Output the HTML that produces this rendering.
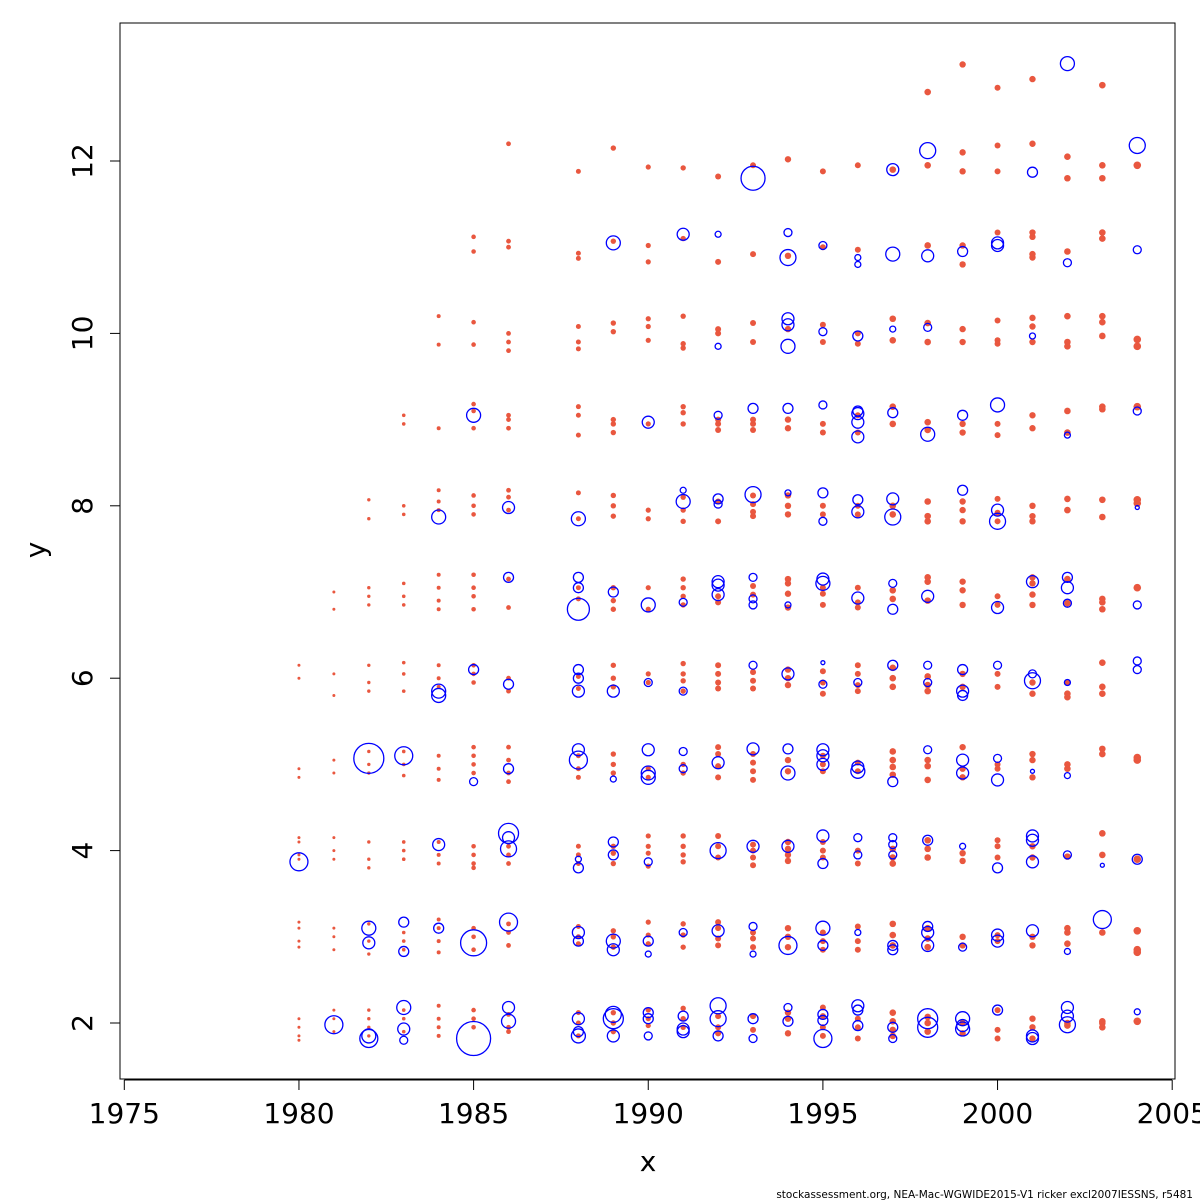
<!DOCTYPE html>
<html><head><meta charset="utf-8"><style>
html,body{margin:0;padding:0;background:#fff;}
svg{display:block;font-family:"DejaVu Sans","Liberation Sans",sans-serif;}
</style></head><body>
<svg id="chart" width="1200" height="1200" viewBox="0 0 1200 1200" xmlns="http://www.w3.org/2000/svg">
<rect x="120" y="23" width="1055" height="1056" fill="none" stroke="#000" stroke-width="1"/>
<g id="axes"></g>
<g id="redLayer"></g>
<g id="blueLayer"></g>
<text x="648" y="1171" font-size="28" text-anchor="middle">x</text>
<text x="45" y="550" font-size="28" text-anchor="middle" transform="rotate(-90 45 550)">y</text>
<text x="1193" y="1198" font-size="10.5" text-anchor="end">stockassessment.org, NEA-Mac-WGWIDE2015-V1  ricker  excl2007IESSNS, r5481</text>
</svg>
<script>
const xTicks=[1975,1980,1985,1990,1995,2000,2005];
const yTicks=[2,4,6,8,10,12];
const redYears=[1980,1981,1982,1983,1984,1985,1986,1988,1989,1990,1991,1992,1993,1994,1995,1996,1997,1998,1999,2000,2001,2002,2003,2004];
const redSizes=[1.5,1.5,1.7,1.8,2,2.3,2.4,2.5,2.7,2.6,2.7,3,3,3.2,3,3,3.3,3.3,3.2,3,3.2,3.3,3.3,3.8];
const redYs=[
[1.8,1.85,1.95,2.05,2.88,2.95,3.1,3.17,3.9,3.95,4.1,4.15,4.85,4.95,6.0,6.15],
[1.9,2.05,2.15,2.85,3.0,3.1,3.9,4.0,4.15,4.9,5.05,5.8,6.05,6.8,7.0],
[1.85,1.95,2.05,2.15,2.8,2.95,3.15,3.8,3.9,4.1,4.9,5.0,5.15,5.85,5.95,6.15,6.85,6.95,7.05,7.85,8.07],
[1.9,2.05,2.15,2.85,2.95,3.05,3.9,4.0,4.1,4.87,5.0,5.15,5.85,6.05,6.18,6.85,6.95,7.1,7.9,8.0,8.95,9.05],
[1.85,1.95,2.05,2.2,2.82,2.95,3.1,3.2,3.85,3.95,4.1,4.82,4.95,5.1,5.9,6.0,6.15,6.8,6.9,7.05,7.2,7.95,8.05,8.18,8.9,9.87,10.2],
[1.95,2.05,2.15,2.85,3.0,3.1,3.8,3.85,3.95,4.05,4.9,5.0,5.1,5.2,5.95,6.05,6.15,6.8,6.95,7.05,7.2,7.9,8.0,8.12,8.9,9.1,9.18,9.87,10.13,10.95,11.12],
[1.9,1.95,2.1,2.9,3.05,3.15,3.85,3.95,4.05,4.8,4.9,5.05,5.2,5.85,6.0,6.82,7.15,7.95,8.1,8.18,8.9,9.0,9.05,9.8,9.9,10.0,11.0,11.07,12.2],
[1.85,2.0,2.12,2.92,3.0,3.12,3.85,3.95,4.05,4.85,4.95,5.1,5.88,6.02,6.92,7.05,7.85,8.15,8.82,9.05,9.15,9.82,9.9,10.08,10.87,10.93,11.88],
[1.9,2.0,2.12,2.88,3.0,3.07,3.85,3.97,4.05,4.9,5.0,5.12,5.9,6.0,6.15,6.8,6.9,7.05,7.88,8.0,8.12,8.85,8.95,9.0,10.02,10.12,11.07,12.15],
[1.97,2.05,2.15,2.92,3.02,3.17,3.82,3.97,4.05,4.17,4.85,4.95,5.95,6.05,6.8,7.05,7.85,7.95,8.95,9.92,10.08,10.17,10.83,11.02,11.93],
[1.95,2.05,2.17,2.88,3.02,3.15,3.87,3.95,4.05,4.17,4.9,5.0,5.85,5.97,6.05,6.17,6.85,6.95,7.05,7.15,7.82,7.95,8.1,8.95,9.08,9.15,9.83,9.88,10.2,11.1,11.92],
[1.88,1.95,2.08,2.9,2.98,3.1,3.17,3.92,4.05,4.17,4.85,4.98,5.12,5.2,5.88,5.95,6.05,6.15,6.88,6.95,7.82,8.05,8.88,8.95,9.0,10.0,10.05,10.83,11.82],
[1.92,2.08,2.88,2.98,3.05,3.83,3.92,4.0,4.07,4.82,4.92,5.02,5.12,5.88,5.97,6.07,6.97,7.07,7.88,7.93,8.02,8.12,8.88,8.95,9.0,9.9,10.12,10.92,11.95],
[1.88,2.05,2.12,2.88,3.0,3.1,3.88,3.95,4.02,4.1,4.92,5.05,5.92,6.0,6.1,6.82,6.98,7.1,7.15,7.9,8.0,8.12,8.9,9.0,10.05,10.9,12.02],
[1.85,1.95,2.08,2.18,2.85,2.95,3.05,3.92,4.0,4.1,4.92,5.0,5.1,5.82,5.95,6.08,6.85,6.98,7.05,7.9,8.0,8.85,8.95,9.9,10.1,11.0,11.88],
[1.82,1.95,2.05,2.85,2.95,3.12,3.85,4.0,4.92,5.02,5.85,5.92,6.05,6.15,6.82,6.88,7.05,7.9,8.0,8.85,9.05,9.88,10.0,10.97,11.95],
[1.85,1.92,2.02,2.12,2.9,3.02,3.15,3.85,3.92,4.02,4.88,4.97,5.05,5.15,5.9,6.0,6.12,6.92,7.02,7.9,8.0,8.95,9.15,9.92,10.17,11.9],
[1.9,2.0,2.07,2.88,2.98,3.1,3.92,4.02,4.12,4.82,4.98,5.05,5.85,5.92,6.02,6.9,7.12,7.17,7.82,7.88,8.05,8.88,8.97,9.9,10.12,11.02,11.95,12.8],
[1.88,2.0,2.9,3.0,3.88,3.97,4.85,4.95,5.2,5.9,6.05,6.85,7.02,7.12,7.82,7.95,8.05,8.85,8.95,9.9,10.05,10.8,11.02,11.88,12.1,13.12],
[1.82,1.92,2.15,2.95,3.02,3.92,4.05,4.12,4.95,5.0,5.9,6.05,6.85,6.95,7.82,7.92,8.08,8.82,8.95,9.88,9.92,10.15,11.17,11.88,12.18,12.85],
[1.82,1.95,2.05,2.9,3.0,3.92,4.05,4.85,5.05,5.12,5.82,5.95,6.85,6.97,7.1,7.17,7.82,7.88,8.0,8.9,9.05,9.9,10.08,10.18,10.88,10.92,11.12,11.17,12.2,12.95],
[1.97,2.0,2.92,3.05,3.1,3.93,4.95,5.0,5.78,5.82,5.95,6.87,7.15,7.95,8.08,8.85,9.1,9.85,9.9,10.2,10.95,11.8,12.05],
[1.95,2.0,2.02,3.05,3.95,4.2,5.12,5.18,5.82,5.9,6.18,6.8,6.88,6.92,7.87,8.07,9.12,9.15,9.97,10.13,10.2,11.1,11.17,11.8,11.95,12.88],
[2.02,2.82,2.85,3.07,3.9,5.05,5.08,7.05,8.03,8.07,9.15,9.85,9.93,11.95]
];
const blueYears=[1980,1981,1982,1983,1984,1985,1986,1988,1989,1990,1991,1992,1993,1994,1995,1996,1997,1998,1999,2000,2001,2002,2003,2004];
const blueYs=[
[3.87],[1.98],
[1.82,1.85,2.93,3.1,5.07],
[1.8,1.93,2.18,2.83,3.17,5.1],
[5.8,5.85,4.07,3.1,7.87],
[1.82,2.93,4.8,6.1,9.05],
[2.02,2.18,3.17,4.02,4.2,4.15,4.95,5.93,7.17,7.98],
[1.85,1.9,2.05,2.95,3.05,3.8,3.9,5.05,5.17,5.85,6.0,6.1,6.8,7.05,7.17,7.85],
[1.85,2.05,2.1,2.85,2.95,3.95,4.1,4.83,5.85,7.0,11.05],
[1.85,2.05,2.12,2.8,2.95,3.87,4.85,4.9,5.17,5.95,6.85,8.97],
[1.9,1.93,2.08,3.05,4.95,5.15,5.85,6.88,8.05,8.18,11.15],
[1.85,2.05,2.2,3.07,4.0,5.02,6.97,7.08,7.12,8.02,8.08,9.05,9.85,11.15],
[1.82,2.05,2.8,3.12,4.05,5.18,6.15,6.85,6.92,7.17,8.13,9.13,11.8],
[2.02,2.18,2.9,4.05,4.9,5.18,6.05,6.85,8.15,9.13,9.85,10.1,10.17,10.88,11.17],
[1.82,2.03,2.1,2.9,3.1,3.85,4.17,5.0,5.1,5.17,5.93,6.18,7.1,7.15,7.82,8.15,9.17,10.02,11.02],
[1.97,2.15,2.2,3.05,3.95,4.15,4.92,4.97,5.95,6.93,7.93,8.07,8.8,8.97,9.07,9.1,9.97,10.8,10.88],
[1.82,1.95,2.85,2.9,3.95,4.07,4.15,4.8,6.15,6.8,7.1,7.87,8.08,9.08,10.05,10.92,11.9],
[1.95,2.05,2.9,3.05,3.12,4.12,5.17,5.95,6.15,6.95,8.83,10.07,10.9,12.12],
[1.93,1.97,2.05,2.88,4.05,4.9,5.05,5.85,5.8,6.1,8.18,9.05,10.95],
[2.15,2.95,3.02,3.8,4.82,5.07,6.15,6.82,7.82,7.95,9.17,11.02,11.05],
[1.82,1.85,3.07,3.87,4.12,4.17,4.92,5.97,6.05,7.12,9.97,11.87],
[1.98,2.08,2.18,2.83,3.95,4.87,5.95,6.87,7.05,7.17,8.82,10.82,13.13],
[3.2,3.83],
[2.13,3.9,6.1,6.2,6.85,7.98,9.1,10.97,12.18]
];
const blueRs=[
[9],[9],
[9,7,6,7,15],
[4,6,7,5,5,9],
[7,7,6,5,7],
[17,13,4,5,7],
[7,6,9,8,10,6,5,5,5,6],
[7,5,6,5,6,5,3,9,6,6,5,5,11,5,5,7],
[6,10,8,6,7,5,5,3,6,5,7],
[4,5,5,3,5,4,7,7,6,4,7,6],
[6,6,5,4,4,4,4,4,7,3,6],
[5,8,8,6,8,6,6,6,6,4,5,4,3,3],
[4,5,3,4,6,6,4,4,4,4,8,5,12],
[5,4,9,6,7,5,6,3,3,5,7,6,6,8,4],
[9,5,5,5,7,5,6,6,6,6,4,2,7,6,4,5,4,4,4],
[5,5,6,3,4,4,7,6,4,6,6,5,6,6,6,5,5,3,3],
[4,5,5,5,4,4,4,5,5,5,4,8,6,5,3,7,6],
[10,10,6,6,5,5,4,4,4,6,7,4,6,8],
[7,6,7,4,3,6,6,6,5,5,5,5,5],
[5,6,6,5,6,4,4,6,8,6,7,6,6],
[6,6,6,6,6,6,2,8,4,6,3,5],
[8,6,6,3,4,3,3,4,6,5,3,4,7],
[9,2],
[3,5,4,4,4,2,4,4,8]
];

const NS='http://www.w3.org/2000/svg';
function xs(v){return 124.3+(v-1975)*34.93;}
function ys(v){return 1023-(v-2)*86.2;}
const axes=document.getElementById('axes');
function mk(tag,attrs,parent){const e=document.createElementNS(NS,tag);for(const k in attrs)e.setAttribute(k,attrs[k]);parent.appendChild(e);return e;}

let l=mk('line',{x1:xs(1975),x2:xs(2005),y1:1080,y2:1080,stroke:'#000'},axes);


xTicks.forEach(t=>{
  const tk=mk('line',{x1:xs(t),x2:xs(t),y1:1080,y2:1090,stroke:'#000'},axes);
  
  
  const tx=mk('text',{x:xs(t),y:1123,'font-size':28,'text-anchor':'middle'},axes);
  tx.textContent=t;
  
  
});
l=mk('line',{x1:120,x2:120,y1:ys(2),y2:ys(12),stroke:'#000'},axes);


yTicks.forEach(t=>{
  const tk=mk('line',{x1:110,x2:120,y1:ys(t),y2:ys(t),stroke:'#000'},axes);
  
  
  const tx=mk('text',{x:92,y:ys(t),'font-size':28,'text-anchor':'middle',transform:'rotate(-90 92 '+ys(t)+')'},axes);
  tx.textContent=t;
  
  
});

const red=document.getElementById('redLayer');
redYears.forEach((yr,i)=>{
  redYs[i].forEach(v=>{
    const c=mk('circle',{cx:xs(yr),cy:ys(v),r:redSizes[i],fill:'#e9573f'},red);
    
    
  });
});
const blue=document.getElementById('blueLayer');
blueYears.forEach((yr,i)=>{
  blueYs[i].forEach((v,j)=>{
    const c=mk('circle',{cx:xs(yr),cy:ys(v),r:blueRs[i][j],fill:'none',stroke:'#0000ff','stroke-width':1.3},blue);
    
    
  });
});
</script>
</body></html>
